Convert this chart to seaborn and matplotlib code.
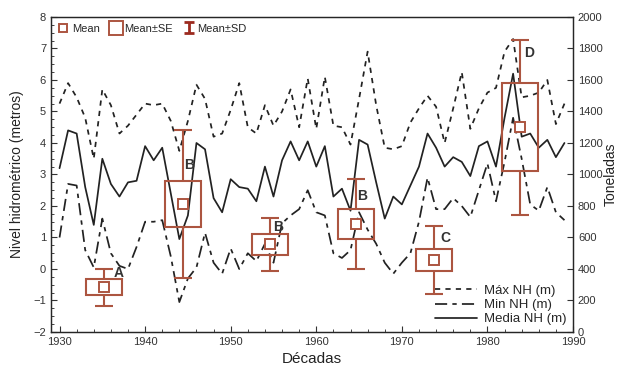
import matplotlib
matplotlib.use("Agg")
import numpy as np
import pandas as pd
import seaborn as sns
import matplotlib.pyplot as plt
from matplotlib.lines import Line2D
from matplotlib.ticker import MultipleLocator

# Datos anuales del nivel hidrométrico (m), 1930-1989
anios = list(range(1930, 1990))
nh_max = [5.25, 5.9, 5.45, 4.8, 3.5, 5.7, 5.2, 4.3, 4.55, 4.9,
          5.25, 5.2, 5.25, 4.7, 3.75, 4.7, 5.85, 5.4, 4.2, 4.3,
          5.05, 5.9, 4.5, 4.3, 5.2, 4.55, 5.0, 5.7, 4.5, 6.05,
          4.45, 6.1, 4.55, 4.5, 3.95, 5.4, 6.9, 5.2, 3.85, 3.8,
          3.9, 4.65, 5.1, 5.5, 5.15, 4.0, 5.1, 6.25, 4.45, 5.1,
          5.6, 5.75, 6.9, 7.3, 5.45, 5.5, 5.6, 6.0, 4.6, 5.25]
nh_min = [1.0, 2.7, 2.65, 0.6, 0.05, 1.6, 0.5, 0.1, 0.0, 0.7,
          1.5, 1.5, 1.55, 0.4, -1.05, -0.3, 0.05, 1.15, 0.2, -0.15,
          0.65, 0.0, 0.5, 0.25, 0.8, 0.2, 1.45, 1.7, 1.9, 2.5,
          1.8, 1.7, 0.5, 0.35, 0.6, 1.8, 1.25, 0.8, 0.2, -0.15,
          0.2, 0.5, 1.5, 2.9, 1.9, 1.9, 2.25, 2.0, 1.65, 2.5,
          3.35, 2.15, 3.4, 4.8, 3.5, 2.05, 1.85, 2.6, 1.8, 1.55]
nh_media = [3.2, 4.4, 4.3, 2.6, 1.4, 3.5, 2.7, 2.3, 2.75, 2.8,
            3.9, 3.45, 3.85, 2.4, 0.95, 1.7, 4.0, 3.8, 2.25, 1.8,
            2.85, 2.6, 2.55, 2.15, 3.25, 2.3, 3.45, 4.05, 3.45, 4.05,
            3.25, 3.9, 2.3, 2.55, 1.85, 4.1, 3.95, 2.75, 1.6, 2.3,
            2.05, 2.65, 3.25, 4.3, 3.85, 3.25, 3.55, 3.4, 2.95, 3.9,
            4.05, 3.25, 4.8, 6.2, 4.2, 4.3, 3.85, 4.1, 3.55, 4.0]

# Toneladas por década (media, error estándar, desviación estándar)
dec_x = [1935.2, 1944.4, 1954.6, 1964.6, 1973.8, 1983.8]
ton_media = [284, 813, 557, 686, 457, 1300]
ton_se = [51, 145, 65, 95, 71, 280]
ton_sd = [118, 469, 167, 288, 217, 555]
letras = ["A", "B", "B", "B", "C", "D"]
letra_x = [1936.9, 1945.1, 1955.6, 1965.4, 1975.1, 1984.9]
letra_y = [375, 1060, 667, 863, 597, 1771]

df = pd.DataFrame({"anio": anios, "max": nh_max, "min": nh_min, "media": nh_media})

sns.set_style("ticks")
plt.rcParams["font.family"] = ["Liberation Sans", "DejaVu Sans"]

rojo = "#ac5540"

fig = plt.figure(figsize=(6.27, 3.66), dpi=100)
ax = fig.add_axes([0.0813, 0.0929, 0.8326, 0.8607])

sns.lineplot(data=df, x="anio", y="max", ax=ax, color="#222222", lw=1.25,
             linestyle=(0, (3, 3)), label="Máx NH (m)")
sns.lineplot(data=df, x="anio", y="min", ax=ax, color="#222222", lw=1.25,
             linestyle=(0, (7, 3, 2.5, 3)), label="Min NH (m)")
sns.lineplot(data=df, x="anio", y="media", ax=ax, color="#222222", lw=1.25,
             label="Media NH (m)")

ax.set_xlim(1929, 1990)
ax.set_ylim(-2, 8)
ax.xaxis.set_major_locator(MultipleLocator(10))
ax.xaxis.set_minor_locator(MultipleLocator(2))
ax.yaxis.set_major_locator(MultipleLocator(1))
ax.yaxis.set_minor_locator(MultipleLocator(0.25))
ax.tick_params(direction="in", labelsize=8, colors="#333333", length=4)
ax.tick_params(which="minor", direction="in", length=2)
ax.set_xlabel("Décadas", fontsize=11, color="#222222", labelpad=4)
ax.set_ylabel("Nivel hidrométrico (metros)", fontsize=10, color="#222222", labelpad=7)
for s in ax.spines.values():
    s.set_color("#333333")
    s.set_linewidth(1.0)

ax.legend(loc="lower right", frameon=False, fontsize=9.5, handlelength=3.2,
          labelspacing=0.15, borderaxespad=0.1, handletextpad=0.5)

ax2 = ax.twinx()
ax2.set_ylim(0, 2000)
ax2.yaxis.set_major_locator(MultipleLocator(200))
ax2.tick_params(direction="in", labelsize=8, colors="#333333", length=4)
ax2.set_ylabel("Toneladas", fontsize=10, color="#222222", labelpad=1)

media = np.array(ton_media)
se = np.array(ton_se)
sd = np.array(ton_sd)
xs = np.array(dec_x)
ax2.bar(xs, 2 * se, bottom=media - se, width=4.2, fill=False,
        edgecolor=rojo, linewidth=1.5, zorder=3)
ax2.vlines(xs, media + se, media + sd, color=rojo, lw=1.5, zorder=3)
ax2.vlines(xs, media - sd, media - se, color=rojo, lw=1.5, zorder=3)
ax2.hlines(media + sd, xs - 1.05, xs + 1.05, color=rojo, lw=1.5, zorder=3)
ax2.hlines(media - sd, xs - 1.05, xs + 1.05, color=rojo, lw=1.5, zorder=3)
ax2.plot(xs, media, ls="none", marker="s", ms=6.5, mfc="white", mec=rojo, mew=1.4, zorder=4)
for lx, ly, t in zip(letra_x, letra_y, letras):
    ax2.text(lx, ly, t, fontsize=10, fontweight="bold", color="#333333",
             ha="center", va="center", zorder=5)

# manejador tipo "I" para Mean±SD
eb = ax2.errorbar([np.nan], [np.nan], yerr=[1], fmt="none", ecolor="#9c2a1f",
                  elinewidth=2, capsize=3.5, capthick=2)
handles = [
    Line2D([], [], ls="none", marker="s", ms=6, mfc="white", mec=rojo, mew=1.4),
    Line2D([], [], ls="none", marker="s", ms=10, mfc="white", mec=rojo, mew=1.4),
    eb,
]
ax2.legend(handles, ["Mean", "Mean±SE", "Mean±SD"], loc="upper left", ncol=3,
           frameon=False, handlelength=1.0, handletextpad=0.3,
           columnspacing=0.9, borderaxespad=0.2,
           prop={"size": 8})

fig.savefig("out.png", dpi=100)
